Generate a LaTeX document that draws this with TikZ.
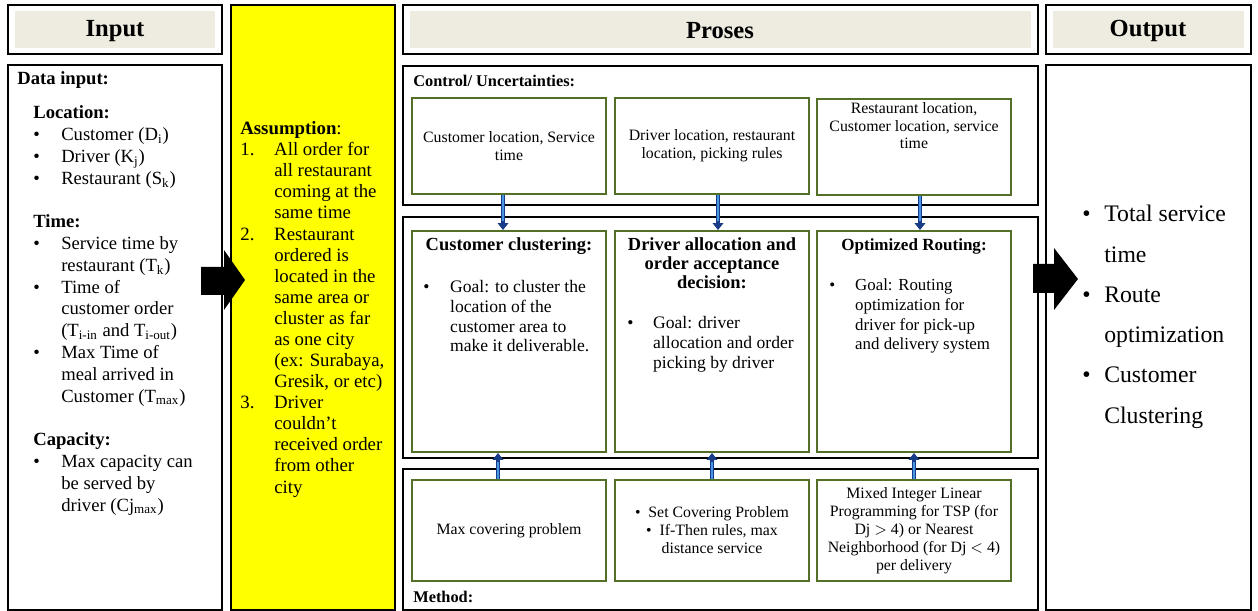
\documentclass[tikz,border=0pt]{standalone}
\usepackage{fontspec}
\setmainfont{Liberation Serif}
\usetikzlibrary{arrows.meta,positioning}

\definecolor{headfill}{RGB}{238,236,225}
\definecolor{boxgreen}{RGB}{84,112,38}
\definecolor{arrowblue}{RGB}{24,60,135}
\definecolor{arrowlight}{RGB}{70,150,225}
\definecolor{assumeyellow}{RGB}{255,255,0}

\newcommand{\bul}[1][15.9pt]{\makebox[#1][l]{\textbullet}}
\newcommand{\ind}[1][15.9pt]{\hspace*{#1}}
\newcommand{\itemno}[1]{\makebox[19.3pt][l]{#1}}

\begin{document}
\begin{tikzpicture}[x=0.02cm,y=-0.02cm,
    frame/.style={draw=black, line width=1.4pt},
    headtxt/.style={font=\fontsize{14}{16}\selectfont\bfseries},
    greenbox/.style={draw=boxgreen, line width=1.1pt, minimum width=3.88cm, inner sep=2pt, align=center},
    ctrltxt/.style={font=\fontsize{9}{10.2}\selectfont},
    listtxt/.style={inner sep=0pt, align=left, anchor=base west},
    bluearrow/.style={draw=arrowblue, line width=2.6pt, -{Triangle[width=6pt,length=4pt]},
        postaction={draw=arrowlight, line width=0.9pt, -, shorten >=5pt}},
]
\useasboundingbox (0,0) rectangle (1258,611);

% column frames
\draw[frame] (8,5) rectangle (222,54);
\fill[headfill] (15,11) rectangle (215,48);
\draw[frame] (8,65) rectangle (222,610);
\draw[frame, fill=assumeyellow] (231,5) rectangle (395,610);
\draw[frame] (403,5) rectangle (1038,54);
\fill[headfill] (410,11) rectangle (1031,48);
\draw[frame] (403,66) rectangle (1038,205);
\draw[frame] (403,217) rectangle (1038,458);
\draw[frame] (403,469) rectangle (1038,610);
\draw[frame] (1046,5) rectangle (1251,54);
\fill[headfill] (1053,11) rectangle (1244,48);
\draw[frame] (1046,65) rectangle (1251,610);

% headers
\node[headtxt] (hin) at (115,31) {Input};
\node[headtxt] (hpro) at (720,31) {Proses};
\node[headtxt] (hout) at (1148,31) {Output};

% input column (base = last line)
\node[listtxt, font=\fontsize{10.6}{12.4}\selectfont\bfseries] (datain) at (17,85) {Data input:};
\node[listtxt, font=\fontsize{10.6}{12.4}\selectfont] (inlist) at (33,511) {%
\textbf{Location:}\\
\bul Customer (D\textsubscript{i})\\
\bul Driver (K\textsubscript{j})\\
\bul Restaurant (S\textsubscript{k})\\
\mbox{}\\
\textbf{Time:}\\
\bul Service time by\\
\ind restaurant (T\textsubscript{k})\\
\bul Time of\\
\ind customer order\\
\ind (T\textsubscript{i-in} and T\textsubscript{i-out})\\
\bul Max Time of\\
\ind meal arrived in\\
\ind Customer (T\textsubscript{max})\\
\mbox{}\\
\textbf{Capacity:}\\
\bul Max capacity can\\
\ind be served by\\
\ind driver (Cj\textsubscript{max})};

% assumption column
\node[listtxt, font=\fontsize{10.7}{12.0}\selectfont] (assume) at (240,493) {%
\textbf{Assumption}:\\
\itemno{1.}All order for\\
\ind[19.3pt]all restaurant\\
\ind[19.3pt]coming at the\\
\ind[19.3pt]same time\\
\itemno{2.}Restaurant\\
\ind[19.3pt]ordered is\\
\ind[19.3pt]located in the\\
\ind[19.3pt]same area or\\
\ind[19.3pt]cluster as far\\
\ind[19.3pt]as one city\\
\ind[19.3pt](ex: Surabaya,\\
\ind[19.3pt]Gresik, or etc)\\
\itemno{3.}Driver\\
\ind[19.3pt]couldn't\\
\ind[19.3pt]received order\\
\ind[19.3pt]from other\\
\ind[19.3pt]city};

% control row
\node[listtxt, font=\fontsize{9.3}{11}\selectfont\bfseries] (ctrllbl) at (413,87) {Control/ Uncertainties:};
\node[greenbox, ctrltxt, minimum height=1.92cm] (ctrlA) at (509,146) {Customer location, Service\\time};
\node[greenbox, ctrltxt, minimum height=1.92cm] (ctrlB) at (712,146) {Driver location, restaurant\\location, picking rules};
\node[greenbox, minimum height=1.92cm] (ctrlC) at (914,147) {};
\node[ctrltxt, align=center, inner sep=0pt, anchor=base] (ctrlCtxt) at (914,149) {Restaurant location,\\Customer location, service\\time};

% process row
\node[greenbox, minimum height=4.42cm] (procA) at (509,341.5) {};
\node[greenbox, minimum height=4.42cm] (procB) at (712,341.5) {};
\node[greenbox, minimum height=4.42cm] (procC) at (914,341.5) {};
\node[inner sep=0pt, anchor=base, font=\fontsize{10.5}{11}\selectfont\bfseries] (procAttl) at (509,251) {Customer clustering:};
\node[listtxt, font=\fontsize{10}{11.3}\selectfont] (procAtxt) at (423,352) {%
\bul[15.3pt]Goal: to cluster the\\
\ind[15.3pt]location of the\\
\ind[15.3pt]customer area to\\
\ind[15.3pt]make it deliverable.};
\node[inner sep=0pt, anchor=base, align=center, font=\fontsize{10.5}{11}\selectfont\bfseries] (procBttl) at (712,289) {Driver allocation and\\order acceptance\\decision:};
\node[listtxt, font=\fontsize{10}{11.3}\selectfont] (procBtxt) at (627,368) {%
\bul[14.7pt]Goal: driver\\
\ind[14.7pt]allocation and order\\
\ind[14.7pt]picking by driver};
\node[inner sep=0pt, anchor=base, font=\fontsize{9.7}{11}\selectfont\bfseries] (procCttl) at (914,251) {Optimized Routing:};
\node[listtxt, font=\fontsize{9.6}{11.2}\selectfont] (procCtxt) at (829,350) {%
\bul[14.7pt]Goal: Routing\\
\ind[14.7pt]optimization for\\
\ind[14.7pt]driver for pick-up\\
\ind[14.7pt]and delivery system};

% method row
\node[greenbox, ctrltxt, minimum height=2.02cm] (methA) at (509,530.5) {Max covering problem};
\node[greenbox, ctrltxt, minimum height=2.02cm] (methB) at (712,530.5) {\textbullet\ \ Set Covering Problem\\\textbullet\ \ If-Then rules, max\\distance service};
\node[greenbox, ctrltxt, minimum height=2.02cm] (methC) at (914,530.5) {Mixed Integer Linear\\Programming for TSP (for\\Dj $>$ 4) or Nearest\\Neighborhood (for Dj $<$ 4)\\per delivery};
\node[listtxt, font=\fontsize{9.3}{11}\selectfont\bfseries] (methlbl) at (413,602) {Method:};

% output column
\node[listtxt, font=\fontsize{13.5}{22.9}\selectfont] (outlist) at (1082,423) {%
\bul[12.5pt]Total service\\
\ind[12.5pt]time\\
\bul[12.5pt]Route\\
\ind[12.5pt]optimization\\
\bul[12.5pt]Customer\\
\ind[12.5pt]Clustering};

% blue connectors
\draw[bluearrow] ([xshift=-0.12cm]ctrlA.south) -- ([xshift=-0.12cm]procA.north);
\draw[bluearrow] ([xshift=0.12cm]ctrlB.south) -- ([xshift=0.12cm]procB.north);
\draw[bluearrow] ([xshift=0.12cm]ctrlC.south) -- ([xshift=0.12cm]procC.north);
\draw[bluearrow] ([xshift=-0.22cm]methA.north) -- ([xshift=-0.22cm]procA.south);
\draw[bluearrow] (methB.north) -- (procB.south);
\draw[bluearrow] (methC.north) -- (procC.south);

% block arrows
\fill (201,267) -- (224,267) -- (224,250) -- (245,280) -- (224,310) -- (224,295) -- (201,295) -- cycle;
\fill (1033,264) -- (1054,264) -- (1054,248) -- (1078,279) -- (1054,310) -- (1054,293) -- (1033,293) -- cycle;
\end{tikzpicture}
\end{document}
